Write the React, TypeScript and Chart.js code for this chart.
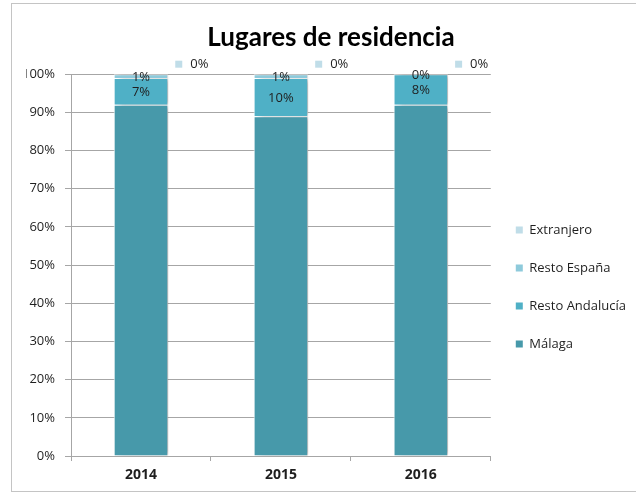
import { useEffect, useRef } from 'react';
import { Chart, registerables } from 'chart.js';

Chart.register(...registerables);

const categories = ['2014', '2015', '2016'];
const seriesNames = ['Málaga', 'Resto Andalucía', 'Resto España', 'Extranjero'];
const malaga = [92, 89, 92];
const restoAndalucia = [7, 10, 8];
const restoEspana = [1, 1, 0];
const extranjero = [0, 0, 0];
const seriesColors = ['#4799aa', '#4fb0c6', '#8ecadb', '#c0dde8'];
const labelModes = ['none', 'center', 'center', 'key'];
const titleText = 'Lugares de residencia';

const FONT = '"Open Sans", sans-serif';
const TITLE_FONT = 'Lato, "Open Sans", sans-serif';
const GRID = '#a6a6a6';
const TEXT = '#1f1f1f';

const shadowPlugin = {
  id: 'barShadow',
  beforeDatasetDraw(chart: any) {
    const ctx = chart.ctx;
    ctx.save();
    ctx.shadowColor = 'rgba(0,0,0,0.28)';
    ctx.shadowBlur = 5;
    ctx.shadowOffsetX = 5;
    ctx.shadowOffsetY = 0;
  },
  afterDatasetDraw(chart: any) {
    chart.ctx.restore();
  },
};

const labelPlugin = {
  id: 'segLabels',
  afterDatasetsDraw(chart: any) {
    const ctx = chart.ctx;
    ctx.save();
    ctx.font = `13px ${FONT}`;
    ctx.textBaseline = 'middle';
    chart.data.datasets.forEach((ds: any, di: number) => {
      const meta = chart.getDatasetMeta(di);
      const mode = ds.labelMode;
      if (mode === 'none') return;
      meta.data.forEach((bar: any, i: number) => {
        const text = ds.data[i] + '%';
        const { x, y, base, width } = bar.getProps(['x', 'y', 'base', 'width'], true);
        if (mode === 'center') {
          ctx.fillStyle = TEXT;
          ctx.textAlign = 'center';
          ctx.fillText(text, x, (y + base) / 2 + 1);
        } else if (mode === 'key') {
          const kx = x + width / 2 + 7;
          const ky = y - 10;
          ctx.fillStyle = ds.backgroundColor;
          ctx.fillRect(kx, ky - 3.5, 7, 7);
          ctx.fillStyle = TEXT;
          ctx.textAlign = 'left';
          ctx.fillText(text, kx + 15, ky + 0.5);
        }
      });
    });
    ctx.restore();
  },
};

export default function App() {
  const ref = useRef<HTMLCanvasElement | null>(null);

  useEffect(() => {
    const canvas = ref.current;
    if (!canvas) return;

    const m = document.createElement('canvas').getContext('2d')!;
    m.font = `13px ${FONT}`;
    const maxText = Math.max(...seriesNames.map((s) => m.measureText(s).width));
    const legendPad = 25;
    const legendWidth = legendPad + 7 + 6.5 + maxText + 10;
    const padRight = Math.max(0, 636 - 491 - legendWidth);

    const values = [malaga, restoAndalucia, restoEspana, extranjero];
    const chart = new Chart(canvas, {
      type: 'bar',
      data: {
        labels: categories,
        datasets: seriesNames.map((name, i) => ({
          label: name,
          data: values[i],
          backgroundColor: seriesColors[i],
          borderColor: '#ffffff',
          borderWidth: 1,
          barPercentage: 0.39,
          categoryPercentage: 1,
          labelMode: labelModes[i],
        })) as any,
      },
      options: {
        animation: false,
        responsive: false,
        maintainAspectRatio: false,
        layout: { padding: { left: 26, right: padRight, top: 0, bottom: 0 } },
        plugins: {
          tooltip: { enabled: false },
          title: {
            display: true,
            text: titleText,
            color: '#000000',
            font: { family: TITLE_FONT, size: 26, weight: 'bold', lineHeight: 1.2 },
            padding: { top: 22, bottom: 21 },
          },
          legend: {
            display: true,
            position: 'right',
            reverse: true,
            title: {
              display: true,
              text: '',
              font: { size: 10, lineHeight: 1 },
              padding: { top: 70, bottom: 0 },
            },
            labels: {
              boxWidth: 7,
              boxHeight: 7,
              padding: legendPad,
              color: TEXT,
              font: { family: FONT, size: 13 },
              generateLabels: (c: any) => {
                const items = Chart.defaults.plugins.legend.labels.generateLabels(c);
                return items.map((it: any) => ({ ...it, lineWidth: 0, strokeStyle: 'rgba(0,0,0,0)' }));
              },
            },
          },
        },
        scales: {
          x: {
            stacked: true,
            afterFit: (s: any) => {
              s.height = 38;
            },
            grid: {
              display: true,
              drawOnChartArea: false,
              drawTicks: true,
              tickLength: 5,
              color: GRID,
              offset: true,
            },
            border: { display: true, color: GRID },
            ticks: {
              color: TEXT,
              padding: 6,
              font: { family: FONT, size: 14, weight: 'bold' },
            },
          },
          y: {
            stacked: true,
            min: 0,
            max: 100,
            afterFit: (s: any) => {
              s.width = 45;
            },
            grid: { color: GRID, tickLength: 6, drawTicks: true },
            border: { display: true, color: GRID },
            ticks: {
              stepSize: 10,
              padding: 10,
              color: TEXT,
              font: { family: FONT, size: 13 },
              callback: (v: any) => v + '%',
            },
          },
        },
      } as any,
      plugins: [shadowPlugin, labelPlugin],
    });
    return () => chart.destroy();
  }, []);

  return (
    <div
      style={{
        position: 'fixed',
        left: 0,
        top: 0,
        width: 636,
        height: 494,
        overflow: 'hidden',
        background: '#ffffff',
      }}
    >
      <div
        style={{
          position: 'absolute',
          left: 11,
          top: 3,
          width: 700,
          height: 489,
          border: '1px solid #c4c4c4',
          boxSizing: 'border-box',
        }}
      />
      <canvas ref={ref} width={636} height={494} style={{ position: 'absolute', left: 0, top: 0 }} />
    </div>
  );
}
